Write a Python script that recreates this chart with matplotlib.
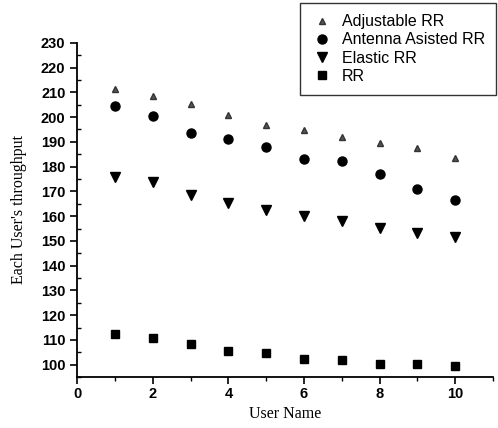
import numpy as np
import matplotlib
matplotlib.use("Agg")
import matplotlib.pyplot as plt
from matplotlib.ticker import MultipleLocator

# data
users = [1, 2, 3, 4, 5, 6, 7, 8, 9, 10]
adjustable_rr = [211.5, 208.5, 205.2, 200.8, 197.0, 194.6, 192.0, 189.7, 187.4, 183.6]
antenna_rr = [204.5, 200.3, 193.6, 191.1, 187.9, 183.0, 182.1, 177.0, 171.0, 166.7]
elastic_rr = [175.8, 173.6, 168.4, 165.3, 162.4, 160.2, 158.2, 155.2, 153.2, 151.5]
plain_rr = [112.2, 110.9, 108.2, 105.7, 104.6, 102.4, 101.7, 100.4, 100.4, 99.6]

fig = plt.figure(figsize=(4.98, 4.28), dpi=100)
ax = fig.add_axes([0.155, 0.119, 0.835, 0.781])

ax.plot(users, adjustable_rr, linestyle='none', marker='^', ms=5,
        color='#555555', mec='#333333', label='Adjustable RR')
ax.plot(users, antenna_rr, linestyle='none', marker='o', ms=6.5,
        color='black', label='Antenna Asisted RR')
ax.plot(users, elastic_rr, linestyle='none', marker='v', ms=7,
        color='black', label='Elastic RR')
ax.plot(users, plain_rr, linestyle='none', marker='s', ms=5.5,
        color='black', label='RR')

ax.set_xlim(0, 11)
ax.set_ylim(95, 230)
ax.xaxis.set_major_locator(MultipleLocator(2))
ax.xaxis.set_minor_locator(MultipleLocator(1))
ax.yaxis.set_minor_locator(MultipleLocator(5))
ax.set_yticks(np.arange(100, 231, 10))

for side in ['top', 'right']:
    ax.spines[side].set_visible(False)
for side in ['left', 'bottom']:
    ax.spines[side].set_linewidth(1.3)

ax.tick_params(axis='both', which='major', direction='out', length=5, width=1.2)
ax.tick_params(axis='x', which='major', pad=2)
ax.tick_params(axis='y', which='minor', direction='in', length=3, width=1)
ax.tick_params(axis='x', which='minor', direction='out', length=3, width=1)

for lbl in ax.get_xticklabels() + ax.get_yticklabels():
    lbl.set_fontfamily('Liberation Sans')
    lbl.set_fontweight('bold')
    lbl.set_fontsize(10.5)

ax.set_xlabel('User Name', family='Liberation Serif', fontsize=11.5, labelpad=4)
ax.set_ylabel("Each User's throughput", family='Liberation Serif', fontsize=11.5, labelpad=10)

leg = fig.legend(loc='upper right', bbox_to_anchor=(0.996, 0.993),
                 prop={'family': 'Liberation Sans', 'size': 11.5},
                 frameon=True, fancybox=False, edgecolor='black',
                 handletextpad=0.6, borderpad=0.7, labelspacing=0.2,
                 handlelength=1.3, borderaxespad=0)
leg.get_frame().set_linewidth(1.0)

plt.savefig('out.png', dpi=100)
